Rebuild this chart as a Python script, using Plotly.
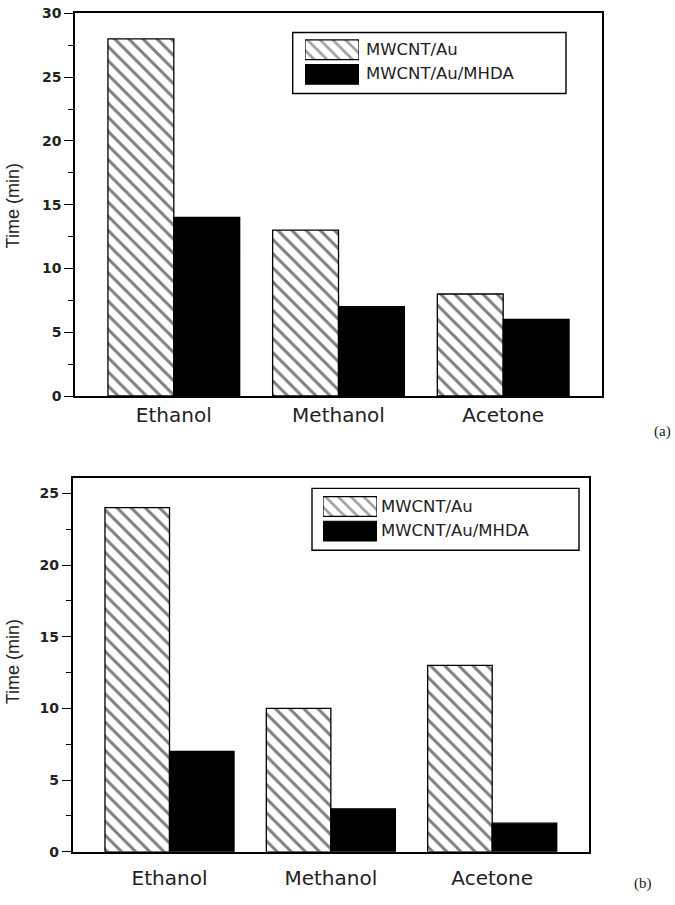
import plotly.graph_objects as go

categories = ["Ethanol", "Methanol", "Acetone"]
series_names = ["MWCNT/Au", "MWCNT/Au/MHDA"]
a_au = [28, 13, 8]
a_mhda = [14, 7, 6]
b_au = [24, 10, 13]
b_mhda = [7, 3, 2]
panel_labels = ["(a)", "(b)"]
a_ticks = [0, 5, 10, 15, 20, 25, 30]
b_ticks = [0, 5, 10, 15, 20, 25]

W, H = 675, 905
def px(x): return x / W
def py(y): return 1 - y / H

FONT = "Liberation Sans, Arial, sans-serif"
DFONT = "DejaVu Sans, sans-serif"
hatch = dict(shape="\\", fgcolor="black", bgcolor="white", size=10, solidity=0.3)

fig = go.Figure()

# main bars
for xa, ya, au, mh in [("x", "y", a_au, a_mhda), ("x2", "y2", b_au, b_mhda)]:
    fig.add_trace(go.Bar(x=categories, y=au, name=series_names[0], xaxis=xa, yaxis=ya,
                         marker=dict(color="white", pattern=hatch, line=dict(color="black", width=1.3)),
                         showlegend=False))
    fig.add_trace(go.Bar(x=categories, y=mh, name=series_names[1], xaxis=xa, yaxis=ya,
                         marker=dict(color="black", line=dict(color="black", width=1.3)),
                         showlegend=False))

# legend swatches on hidden axes
legend_rows = list(reversed(series_names))
for xa, ya in [("x3", "y3"), ("x4", "y4")]:
    fig.add_trace(go.Bar(y=legend_rows, x=[1, 1], orientation="h", xaxis=xa, yaxis=ya,
                         width=0.8, showlegend=False, hoverinfo="skip",
                         marker=dict(color=["black", "white"],
                                     pattern=dict(shape=["", "\\"], fgcolor="black", bgcolor="white",
                                                  size=9, solidity=0.3),
                                     line=dict(color="black", width=1.2))))

yax_common = dict(showline=True, linewidth=1.6, linecolor="black", mirror=True,
                  ticks="outside", ticklen=9, tickwidth=1.3, tickcolor="black",
                  showgrid=False, zeroline=False, ticklabeloverflow="allow",
                  tickfont=dict(family=DFONT, size=14, color="#222", weight="bold"),
                  minor=dict(ticks="outside", ticklen=5, tickwidth=1.1, tickcolor="black", dtick=2.5, showgrid=False))
xax_common = dict(showline=True, linewidth=1.6, linecolor="black", mirror=True,
                  ticks="", showgrid=False, zeroline=False, range=[-0.6, 2.6],
                  tickfont=dict(family=DFONT, size=20, color="#222"))

fig.update_layout(
    width=W, height=H, margin=dict(l=0, r=0, t=0, b=0),
    paper_bgcolor="white", plot_bgcolor="white",
    barmode="group", bargap=0.2, bargroupgap=0,
    showlegend=False,
    xaxis=dict(domain=[px(75), px(602)], anchor="y", ticklabelstandoff=0, **xax_common),
    yaxis=dict(domain=[py(395), py(5.5)], anchor="x", range=[0, 30], tickvals=a_ticks, **yax_common),
    xaxis2=dict(domain=[px(72.7), px(589)], anchor="y2", ticklabelstandoff=7, **xax_common),
    yaxis2=dict(domain=[py(859), py(478)], anchor="x2", range=[0, 26.1], tickvals=b_ticks, **yax_common),
    xaxis3=dict(domain=[px(305), px(359)], anchor="y3", range=[0, 1], visible=False),
    yaxis3=dict(domain=[py(80), py(30)], anchor="x3", visible=False, range=[-0.5, 1.5]),
    xaxis4=dict(domain=[px(323), px(377)], anchor="y4", range=[0, 1], visible=False),
    yaxis4=dict(domain=[py(545), py(495)], anchor="x4", visible=False, range=[-0.5, 1.5]),
)

shapes = [
    dict(type="rect", xref="paper", yref="paper", x0=px(292.7), x1=px(566), y0=py(87), y1=py(25),
         line=dict(color="black", width=1.4)),
    dict(type="rect", xref="paper", yref="paper", x0=px(312), x1=px(579), y0=py(552), y1=py(489),
         line=dict(color="black", width=1.4)),
]
fig.update_layout(shapes=shapes)

ann = []
LEGFONT = dict(family=DFONT, size=16.5, color="#222")
for name, y in zip(series_names, [42, 67]):
    ann.append(dict(text=name, x=px(364), y=py(y), xref="paper", yref="paper",
                    xanchor="left", yanchor="middle", showarrow=False, font=LEGFONT))
for name, y in zip(series_names, [507, 532]):
    ann.append(dict(text=name, x=px(379), y=py(y), xref="paper", yref="paper",
                    xanchor="left", yanchor="middle", showarrow=False, font=LEGFONT))
for yc in [202, 666]:
    ann.append(dict(text="Time (min)", x=px(13), y=py(yc), xref="paper", yref="paper",
                    textangle=-90, xanchor="center", yanchor="middle", showarrow=False,
                    font=dict(family=FONT, size=18, color="#222")))
ann.append(dict(text=panel_labels[0], x=px(662), y=py(431), xref="paper", yref="paper",
                xanchor="center", yanchor="middle",
                showarrow=False, font=dict(family="Liberation Serif, serif", size=15, color="#222")))
ann.append(dict(text=panel_labels[1], x=px(643), y=py(891), xref="paper", yref="paper",
                xanchor="center", yanchor="middle",
                showarrow=False, font=dict(family="Liberation Serif, serif", size=15, color="#222")))
fig.update_layout(annotations=ann)

fig.write_html("out.html", config={"displayModeBar": False},
               post_script="document.body.style.margin='0';document.body.style.padding='0';document.body.style.overflow='hidden';")
